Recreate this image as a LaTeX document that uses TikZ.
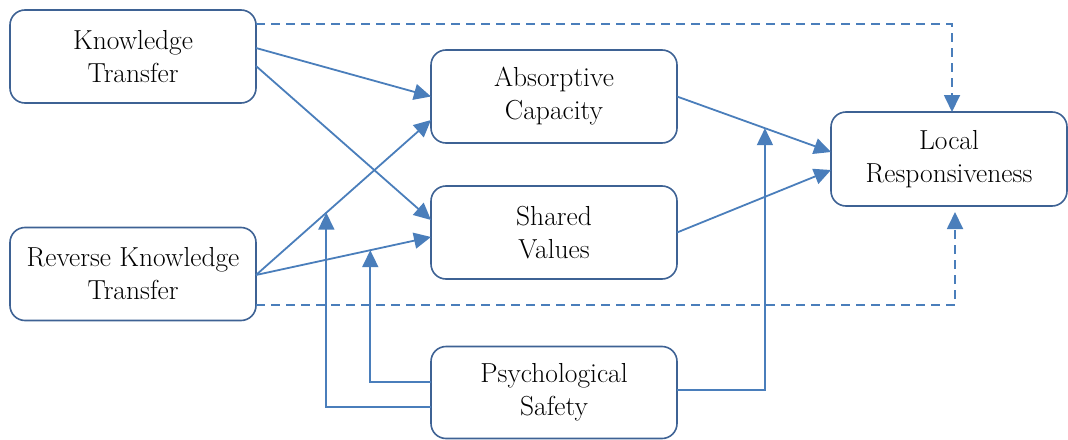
\documentclass[tikz,border=0pt]{standalone}
\usepackage{fontspec}
\usetikzlibrary{arrows.meta,calc}
\definecolor{boxc}{RGB}{62,98,148}
\definecolor{linec}{RGB}{74,126,187}
\begin{document}
\begin{tikzpicture}[x=1pt,y=-1pt,
  box/.style={draw=boxc,line width=1.6pt,rounded corners=15pt,minimum width=246pt,minimum height=93pt,inner sep=0pt,outer sep=0pt,align=center,font=\fontsize{27.5}{33}\selectfont,fill=white},
  arr/.style={draw=linec,line width=1.8pt,-{Triangle[length=17pt,width=16pt]}},
  darr/.style={arr,dash pattern=on 9pt off 6pt}]
\useasboundingbox (0,0) rectangle (1068,439);
\node[box] (kt) at (133,56.5) {Knowledge\\Transfer};
\node[box] (rkt) at (133,274) {Reverse Knowledge\\Transfer};
\node[box] (ac) at (554,96.5) {Absorptive\\Capacity};
\node[box] (sv) at (554,232.5) {Shared\\Values};
\node[box,minimum height=92pt] (ps) at (554,392.5) {Psychological\\Safety};
\node[box,minimum width=236pt,minimum height=94pt] (lr) at (949,159) {Local\\Responsiveness};
% dashed direct links
\draw[darr] ($(kt.east)+(0,-32.5)$) -| ($(lr.north)+(3,0)$);
\draw[darr,shorten >=6pt] ($(rkt.east)+(0,31)$) -| ($(lr.south)+(6,0)$);
% main links
\coordinate (r0) at ($(rkt.east)+(0,1)$);
\coordinate (acw) at ($(ac.west)+(0,23.5)$);
\coordinate (svw) at ($(sv.west)+(0,4.5)$);
\coordinate (lrw) at ($(lr.west)+(0,-7)$);
\draw[arr] ($(kt.east)+(0,-8.5)$) -- (ac.west);
\draw[arr] ($(kt.east)+(0,9.5)$) -- ($(sv.west)+(0,-12.5)$);
\draw[arr] (r0) -- (acw);
\draw[arr] (r0) -- (svw);
\draw[arr] (ac.east) -- (lrw);
\draw[arr] (sv.east) -- ($(lr.west)+(0,11)$);
% moderation
\coordinate (m1) at ($(r0)!0.402!(acw)$);
\coordinate (m2) at ($(r0)!0.653!(svw)$);
\coordinate (m3) at ($(ac.east)!0.571!(lrw)$);
\draw[arr] ($(ps.west)+(0,14.5)$) -| (m1);
\draw[arr] ($(ps.west)+(0,-10.5)$) -| (m2);
\draw[arr] ($(ps.east)+(0,-2.5)$) -| (m3);
\end{tikzpicture}
\end{document}
